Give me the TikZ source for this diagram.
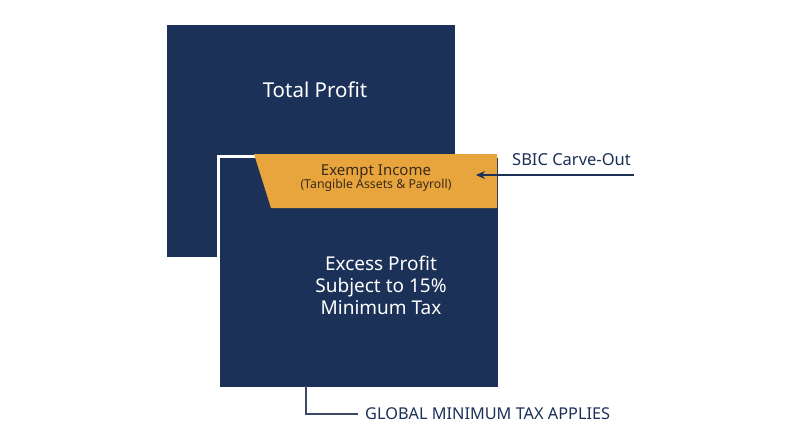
\documentclass[tikz,border=0pt]{standalone}
\usepackage{fontspec}
\setmainfont{Noto Sans}
\usetikzlibrary{arrows.meta}
\definecolor{navy}{HTML}{1B3158}
\definecolor{gold}{HTML}{E8A53E}
\definecolor{brownish}{HTML}{3A2A18}
\definecolor{linec}{HTML}{3A4A66}
\begin{document}
\begin{tikzpicture}[x=1pt,y=-1pt,
  block/.style={fill=navy,inner sep=0pt,anchor=north west},
  whitetxt/.style={text=white,align=center,inner sep=0pt},
  labeltxt/.style={text=navy,inner sep=0pt}]
\useasboundingbox (0,0) rectangle (800,447);
\fill[white] (0,0) rectangle (800,447);
% back block
\node[block,minimum width=288pt,minimum height=232pt] (total) at (167,25) {};
\node[whitetxt,font=\fontsize{20.5}{24}\selectfont] (totaltxt) at (315,90) {Total Profit};
% front block with white border
\node[block,draw=white,line width=3pt,minimum width=281pt,minimum height=232pt] (front) at (216.5,154.5) {};
% orange band
\fill[gold] (254,154) -- (497,154) -- (497,208) -- (271,208) -- cycle;
\node[text=brownish,align=center,inner sep=0pt] (exempt) at (376,178)
  {{\fontsize{15}{18}\selectfont Exempt Income}\\[-0.5pt]{\fontsize{12.3}{14}\selectfont (Tangible Assets \& Payroll)}};
\node[whitetxt,font=\fontsize{19}{22}\selectfont] (excess) at (381,285) {Excess Profit\\Subject to 15\%\\Minimum Tax};
% SBIC label and arrow
\node[labeltxt,font=\fontsize{16.5}{18}\selectfont,anchor=west] (sbic) at (512,160) {SBIC Carve-Out};
\coordinate (sbicstart) at (634,175);
\coordinate (sbicend) at (476,175);
\draw[navy,line width=1.2pt,-{Stealth[length=9pt,width=8pt]}] (sbicstart) -- (sbicend);
% bottom label
\node[labeltxt,font=\fontsize{16.3}{18}\selectfont,anchor=west] (global) at (365,414) {GLOBAL MINIMUM TAX APPLIES};
\coordinate (gtop) at (306,386);
\draw[linec,line width=1.2pt] (gtop) |- ([xshift=-7pt]global.west);
\end{tikzpicture}
\end{document}
